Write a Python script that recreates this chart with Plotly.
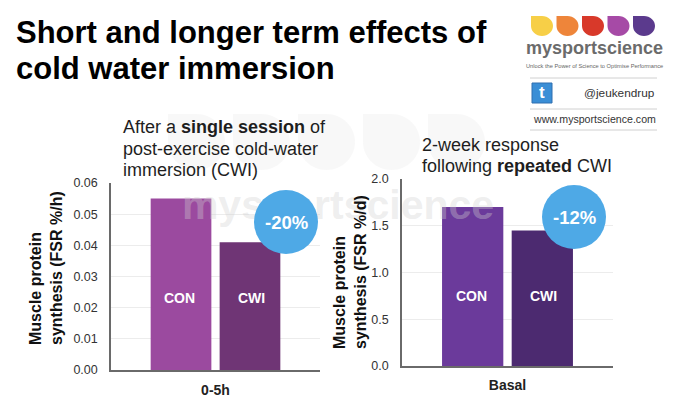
import plotly.graph_objects as go

# ---- data ----
groups = ["CON", "CWI"]
left_category = ["0-5h"]
left_values = [0.055, 0.041]          # FSR %/h
right_category = ["Basal"]
right_values = [1.70, 1.45]           # FSR %/d
left_colors = ["#9b4a9f", "#6f3575"]
right_colors = ["#6b3a9b", "#4c2a70"]
left_change = "-20%"
right_change = "-12%"
left_ticks = [0.0, 0.01, 0.02, 0.03, 0.04, 0.05, 0.06]
right_ticks = [0.0, 0.5, 1.0, 1.5, 2.0]

W, H = 680, 410
FONT = "Liberation Sans, Arial, Helvetica, sans-serif"


def X(px):
    return px / W


def Y(py):
    return 1 - py / H


fig = go.Figure()

for g, v, c in zip(groups, left_values, left_colors):
    fig.add_trace(go.Bar(x=left_category, y=[v], name=g, marker=dict(color=c, line=dict(width=0)),
                         xaxis="x", yaxis="y", showlegend=False, hoverinfo="skip"))
for g, v, c in zip(groups, right_values, right_colors):
    fig.add_trace(go.Bar(x=right_category, y=[v], name=g, marker=dict(color=c, line=dict(width=0)),
                         xaxis="x2", yaxis="y2", showlegend=False, hoverinfo="skip"))

line_style = dict(showline=True, linecolor="#6a6a6a", linewidth=1.5, zeroline=False, ticks="",
                  automargin=False)
ytick_font = dict(family=FONT, size=12.5, color="#333")
xtick_font = dict(family=FONT, size=14, color="#222")

fig.update_layout(
    template="none",
    width=W, height=H, autosize=False,
    margin=dict(l=0, r=0, t=0, b=0, pad=0),
    paper_bgcolor="white", plot_bgcolor="white",
    barmode="group", bargap=0.34, bargroupgap=0.12,
    xaxis=dict(domain=[X(111), X(320)], anchor="y", showgrid=False,
               tickvals=left_category, ticktext=["<b>" + t + "</b>" for t in left_category],
               ticklabelstandoff=6, tickfont=xtick_font, **line_style),
    yaxis=dict(domain=[Y(370), Y(183)], anchor="x", range=[0, 0.06], tickvals=left_ticks,
               tickformat=".2f", showgrid=True, gridcolor="#ececec", gridwidth=1,
               ticklabelstandoff=9, tickfont=ytick_font, **line_style),
    xaxis2=dict(domain=[X(402), X(613)], anchor="y2", showgrid=False,
                tickvals=right_category, ticktext=["<b>" + t + "</b>" for t in right_category],
                ticklabelstandoff=5, tickfont=xtick_font, **line_style),
    yaxis2=dict(domain=[Y(366), Y(179)], anchor="x2", range=[0, 2.0], tickvals=right_ticks,
                tickformat=".1f", showgrid=True, gridcolor="#ececec", gridwidth=1,
                ticklabelstandoff=9, tickfont=ytick_font, **line_style),
)

shapes = []
annotations = []


def drop_path(x0, top, w, h):
    k = 0.5523
    rx, ry = w / 2, h / 2
    cx, cy = x0 + rx, top + ry
    right, bottom = x0 + w, top + h
    pts = [
        f"M{X(x0)},{Y(top)}",
        f"L{X(cx)},{Y(top)}",
        f"C{X(cx + k * rx)},{Y(top)} {X(right)},{Y(cy - k * ry)} {X(right)},{Y(cy)}",
        f"C{X(right)},{Y(cy + k * ry)} {X(cx + k * rx)},{Y(bottom)} {X(cx)},{Y(bottom)}",
        f"C{X(cx - k * rx)},{Y(bottom)} {X(x0)},{Y(cy + k * ry)} {X(x0)},{Y(cy)}",
        "Z",
    ]
    return " ".join(pts)


def text(t, x, y, size, color="#1e1e1e", xanchor="left", **kw):
    annotations.append(dict(text=t, x=X(x), y=Y(y), xref="paper", yref="paper", showarrow=False,
                            xanchor=xanchor, yanchor="middle",
                            font=dict(family=FONT, size=size, color=color), **kw))


# faint watermark drops
for i in range(5):
    shapes.append(dict(type="path", xref="paper", yref="paper", layer="below",
                       path=drop_path(168 + i * 65, 114, 57, 56),
                       fillcolor="rgba(209,209,209,0.16)", line=dict(width=0)))

# watermark text (above bars, below circles)
shapes.append(dict(type="rect", xref="paper", yref="paper", layer="above",
                   x0=X(180), x1=X(496), y0=Y(222), y1=Y(180), line=dict(width=0),
                   fillcolor="rgba(0,0,0,0)",
                   label=dict(text="<b>mysportscience</b>", textposition="middle center",
                              font=dict(family=FONT, size=41, color="rgba(209,209,209,0.37)"))))

# change circles
for (cx, cy, txt) in [(286, 222, left_change), (574, 217, right_change)]:
    r = 32
    shapes.append(dict(type="circle", xref="paper", yref="paper", layer="above",
                       x0=X(cx - r), x1=X(cx + r), y0=Y(cy + r), y1=Y(cy - r),
                       fillcolor="#4ea9e6", line=dict(width=0)))
    text("<b>" + txt + "</b>", cx, cy, 18.5, color="white", xanchor="center")

# bar labels
for g, xoff in zip(groups, [-0.17, 0.17]):
    annotations.append(dict(text="<b>" + g + "</b>", x=xoff, y=0.023, xref="x", yref="y",
                            showarrow=False, font=dict(family=FONT, size=14, color="white")))
    annotations.append(dict(text="<b>" + g + "</b>", x=xoff, y=0.75, xref="x2", yref="y2",
                            showarrow=False, font=dict(family=FONT, size=14, color="white")))

# titles
text("<b>Short and longer term effects of</b>", 14, 33, 31, color="black")
text("<b>cold water immersion</b>", 14, 68, 31, color="black")

text("After a <b>single session</b> of", 121, 127, 18)
text("post-exercise cold-water", 121, 148.5, 18)
text("immersion (CWI)", 121, 170, 18)
text("2-week response", 420, 145, 18)
text("following <b>repeated</b> CWI", 420, 166, 18)

# y-axis titles
text("<b>Muscle protein<br>synthesis (FSR %/h)</b>", 46, 268, 16, color="#111", xanchor="center",
     textangle=-90, align="left")
text("<b>Muscle protein<br>synthesis (FSR %/d)</b>", 350, 272, 16, color="#111", xanchor="center",
     textangle=-90, align="left")

# logo block
drop_colors = ["#f7cf47", "#ee853a", "#d8392a", "#a64aa6", "#5b3a8d"]
for i, c in enumerate(drop_colors):
    shapes.append(dict(type="path", xref="paper", yref="paper", layer="above",
                       path=drop_path(531 + i * 25.5, 16, 22, 20), fillcolor=c, line=dict(width=0)))

text("<b>mysportscience</b>", 594, 48, 18, color="#6b6b6b", xanchor="center")
text("Unlock the Power of Science to Optimise Performance", 594, 66, 5.7, color="#666", xanchor="center")
for ly in [78, 109, 130]:
    shapes.append(dict(type="line", xref="paper", yref="paper", x0=X(530), x1=X(657),
                       y0=Y(ly), y1=Y(ly), line=dict(color="#d0d0d0", width=1)))

shapes.append(dict(type="rect", xref="paper", yref="paper", x0=X(532), x1=X(552), y0=Y(103), y1=Y(83),
                   fillcolor="#3a8ed6", line=dict(color="#2f6fb0", width=1)))
text("<b>t</b>", 542, 93, 17, color="white", xanchor="center")
text("@jeukendrup", 657, 93, 11.8, color="#333", xanchor="right")
text("www.mysportscience.com", 531, 119, 10.6, color="#333")

fig.update_layout(shapes=shapes, annotations=annotations)
fig.write_html("out.html", config={"displayModeBar": False},
               post_script="document.body.style.margin='0';document.body.style.overflow='hidden';")
